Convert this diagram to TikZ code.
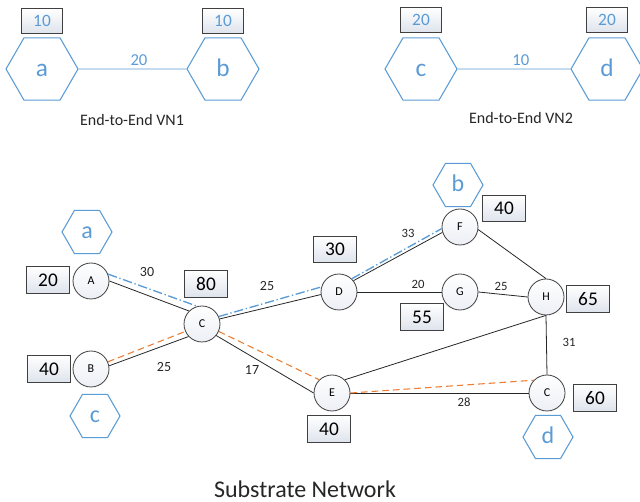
\documentclass[tikz,border=0pt]{standalone}
\usepackage{fontspec}
\setmainfont{Carlito}
\usetikzlibrary{shapes.geometric}

\definecolor{vnblue}{RGB}{91,155,213}
\definecolor{vnorange}{RGB}{237,125,49}
\definecolor{rimgray}{RGB}{64,64,64}
\definecolor{boxshade}{RGB}{222,227,236}
\definecolor{nodeshade}{RGB}{236,239,245}

\tikzset{
  vhex/.style={regular polygon, regular polygon sides=6, draw=vnblue, line width=0.8pt,
    text=vnblue, inner sep=0pt},
  vhexbig/.style={vhex, minimum size=54pt, text height=12pt, text depth=0.4pt,
    font=\fontsize{19}{19}\selectfont},
  vhexsmall/.style={vhex, minimum size=37.5pt, text height=11pt, text depth=0.5pt,
    font=\fontsize{18}{18}\selectfont},
  capbox/.style={draw=rimgray, line width=0.8pt, top color=white, bottom color=boxshade,
    inner sep=0pt, minimum width=32pt, minimum height=20pt,
    font=\fontsize{14.5}{14.5}\selectfont},
  vcapbox/.style={capbox, minimum width=30.5pt, minimum height=18.5pt, text=vnblue,
    font=\fontsize{13}{13}\selectfont},
  snode/.style={circle, draw=rimgray, line width=0.6pt, top color=white, bottom color=nodeshade,
    minimum size=27pt, inner sep=0pt, font=\fontsize{9}{9}\selectfont},
  vlink/.style={draw=vnblue, line width=0.7pt},
  vlabel/.style={text=vnblue, font=\fontsize{12.5}{12.5}\selectfont, inner sep=2.5pt},
  slink/.style={draw=black!85, line width=0.6pt},
  vnpath1/.style={draw=vnblue, line width=1pt, dash pattern=on 7pt off 2pt on 1pt off 2pt},
  vnpath2/.style={draw=vnorange, line width=0.8pt, dash pattern=on 5pt off 3pt},
  bw/.style={font=\fontsize{10.5}{10.5}\selectfont, text=black!85},
  bwsmall/.style={font=\fontsize{9.5}{9.5}\selectfont, text=black!85},
  title/.style={font=\fontsize{12}{12}\selectfont, text=black!85}
}

\begin{document}
\begin{tikzpicture}[x=0.75pt, y=-0.75pt]
\useasboundingbox (0,0) rectangle (640,502);

% end-to-end VN1
\node[vhexbig] (va) at (42,69) {a};
\node[vhexbig] (vb) at (223,69) {b};
\node[vcapbox] (wa) at (42,21) {10};
\node[vcapbox] (wb) at (223,21) {10};
\draw[vlink] (va) -- node[pos=0.56, above, vlabel] (lab) {20} (vb);
\node[title] (t1) at (132,120) {End-to-End VN1};

% end-to-end VN2
\node[vhexbig] (vc) at (421,69) {c};
\node[vhexbig] (vd) at (607,69) {d};
\node[vcapbox] (wc) at (421,20) {20};
\node[vcapbox] (wd) at (607,20) {20};
\draw[vlink] (vc) -- node[pos=0.56, above, vlabel] (lcd) {10} (vd);
\node[title] (t2) at (521,118) {End-to-End VN2};

% substrate nodes
\node[snode] (nA) at (91,281) {A};
\node[snode] (nB) at (91,369) {B};
\node[snode] (nC) at (202,324) {C};
\node[snode] (nD) at (339,292) {D};
\node[snode] (nE) at (332,393) {E};
\node[snode] (nF) at (460,227) {F};
\node[snode] (nG) at (460,292) {G};
\node[snode] (nH) at (546,297) {H};
\node[snode] (nCc) at (547,393) {C};

% node capacities
\node[capbox] (kA) at (48,280) {20};
\node[capbox] (kB) at (49,369) {40};
\node[capbox] (kC) at (206,284) {80};
\node[capbox] (kD) at (335,249.5) {30};
\node[capbox] (kE) at (329,429) {40};
\node[capbox] (kF) at (504,208.5) {40};
\node[capbox] (kG) at (422,317) {55};
\node[capbox] (kH) at (588,299) {65};
\node[capbox] (kCc) at (595,398) {60};

% mapped virtual nodes
\node[vhexsmall] (sa) at (87,232) {a};
\node[vhexsmall] (sb) at (458,185) {b};
\node[vhexsmall] (sc) at (95,416) {c};
\node[vhexsmall] (sd) at (548,437) {d};

% substrate links
\draw[slink] (nA.0) -- (nC.135);
\draw[slink] (nB.10) -- (nC.223);
\draw[slink] (nC.16) -- (nD.188);
\draw[slink] (nC.-39) -- (nE.180);
\draw[slink] (nD.38) -- (nF.197);
\draw[slink] (nD.0) -- (nG.180);
\draw[slink] (nG.0) -- (nH.180);
\draw[slink] (nF.-8) -- (nH.90);
\draw[slink] (nH.270) -- (nE.46);
\draw[slink] (nH.270) -- (nCc.90);
\draw[slink] (nE.0) -- (nCc.180);

% link bandwidths
\node[bw] (bAC) at (147,272.5) {30};
\node[bw] (bCD) at (267,286.5) {25};
\node[bw] (bBC) at (164,367.5) {25};
\node[bw] (bCE) at (252,369.5) {17};
\node[bwsmall] (bDF) at (408,233.5) {33};
\node[bwsmall] (bDG) at (418,284.5) {20};
\node[bwsmall] (bGH) at (501,286.5) {25};
\node[bwsmall] (bHC) at (569,342.5) {31};
\node[bwsmall] (bEC) at (464,402.5) {28};

% embedded paths
\draw[vnpath1] (nA.22) -- (nC.105);
\draw[vnpath1] (nC.24) -- (nD.164);
\draw[vnpath1] (nD.46) -- (nF.185);
\draw[vnpath2] (nB.23) -- (nC.204);
\draw[vnpath2] (nC.-24) -- (nE.134);
\draw[vnpath2] (nE.0) -- (nCc.136);

\node[font=\fontsize{18}{18}\selectfont, text=black!85] (t3) at (305,489) {Substrate Network};

\end{tikzpicture}
\end{document}
